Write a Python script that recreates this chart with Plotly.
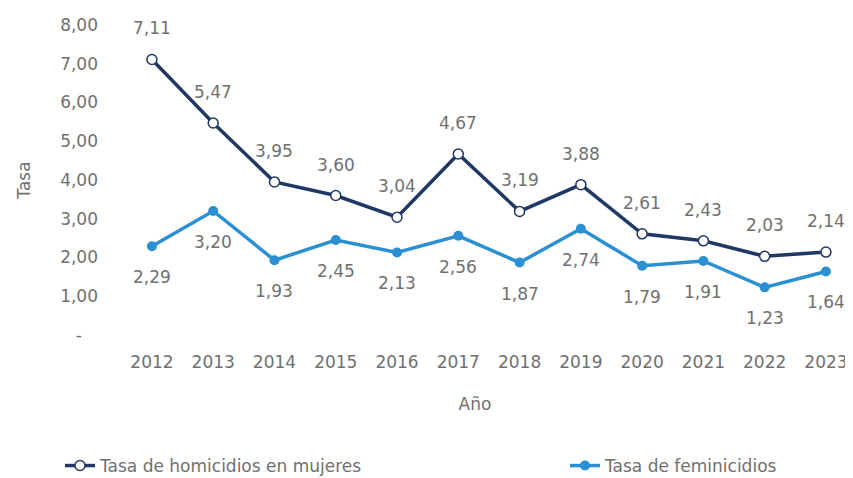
import plotly.graph_objects as go

years = ["2012", "2013", "2014", "2015", "2016", "2017", "2018", "2019", "2020", "2021", "2022", "2023"]
homicidios = [7.11, 5.47, 3.95, 3.60, 3.04, 4.67, 3.19, 3.88, 2.61, 2.43, 2.03, 2.14]
feminicidios = [2.29, 3.20, 1.93, 2.45, 2.13, 2.56, 1.87, 2.74, 1.79, 1.91, 1.23, 1.64]
y_tickvals = [0, 1, 2, 3, 4, 5, 6, 7, 8]
y_ticktext = ["-\u00a0\u00a0\u00a0", "1,00", "2,00", "3,00", "4,00", "5,00", "6,00", "7,00", "8,00"]

DARK = "#1F3864"
LIGHT = "#2B8FD4"
TXT = "#707070"
FONT = "DejaVu Sans"
FS = 17

W, H = 845, 470  # page body has an 8px margin in the 853x478 window


def fmt(v):
    return f"{v:.2f}".replace(".", ",")


fig = go.Figure()
fig.add_trace(go.Scatter(
    x=years, y=homicidios, mode="lines+markers",
    name="Tasa de homicidios en mujeres", legend="legend",
    line=dict(color=DARK, width=3.5),
    marker=dict(symbol="circle", size=10, color="white", line=dict(color=DARK, width=1.5)),
))
fig.add_trace(go.Scatter(
    x=years, y=feminicidios, mode="lines+markers",
    name="Tasa de feminicidios", legend="legend2",
    line=dict(color=LIGHT, width=3.5),
    marker=dict(symbol="circle", size=10, color=LIGHT),
))

annotations = []
for i, v in enumerate(homicidios):
    annotations.append(dict(x=i, y=v, xref="x", yref="y", text=fmt(v), showarrow=False,
                            yshift=31, font=dict(family=FONT, size=FS, color=TXT)))
for i, v in enumerate(feminicidios):
    annotations.append(dict(x=i, y=v, xref="x", yref="y", text=fmt(v), showarrow=False,
                            yshift=-31, font=dict(family=FONT, size=FS, color=TXT)))

legend_common = dict(orientation="h", xref="container", yref="container",
                     xanchor="left", y=1 - 458 / H, yanchor="middle",
                     font=dict(family=FONT, size=FS, color=TXT), itemwidth=30,
                     bgcolor="rgba(0,0,0,0)")

fig.update_layout(
    width=W, height=H,
    margin=dict(l=94, r=5, t=12, b=138),
    paper_bgcolor="white", plot_bgcolor="white",
    font=dict(family=FONT, size=FS, color=TXT),
    annotations=annotations,
    showlegend=True,
    legend=dict(x=52 / W, **legend_common),
    legend2=dict(x=557 / W, **legend_common),
    xaxis=dict(type="category", range=[-0.815, 11.36], showgrid=False, zeroline=False,
               showline=False, ticks="", ticklabelstandoff=10, automargin=False,
               title=dict(text="Año", standoff=27, font=dict(family=FONT, size=FS, color=TXT))),
    yaxis=dict(range=[-0.129, 8.129], tickvals=y_tickvals, ticktext=y_ticktext,
               showgrid=False, zeroline=False, showline=False, ticks="", automargin=False,
               ticklabelstandoff=3,
               title=dict(text="Tasa", standoff=25, font=dict(family=FONT, size=FS, color=TXT))),
)

fig.write_html("out.html")
